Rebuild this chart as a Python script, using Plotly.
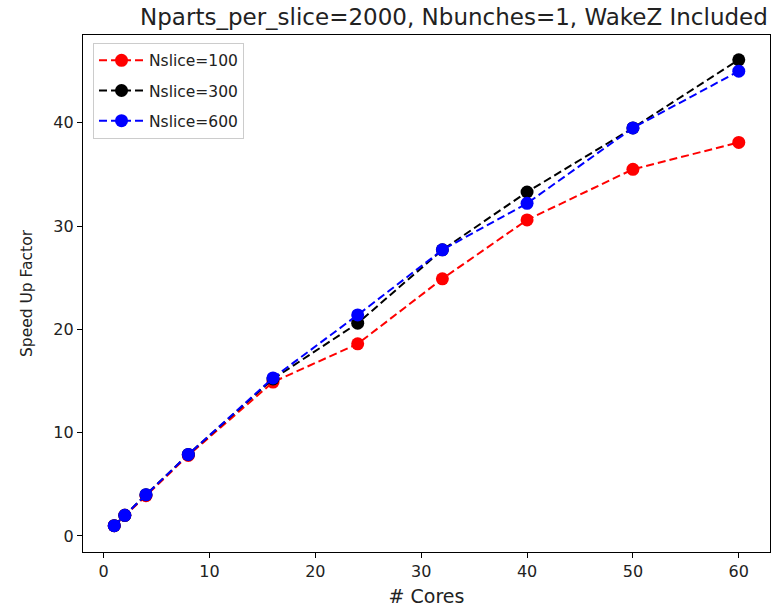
import plotly.graph_objects as go

cores = [1, 2, 4, 8, 16, 24, 32, 40, 50, 60]
nslice100 = [1.0, 2.0, 3.9, 7.8, 14.9, 18.6, 24.9, 30.6, 35.5, 38.1]
nslice300 = [1.0, 2.0, 4.0, 7.9, 15.2, 20.6, 27.7, 33.3, 39.5, 46.1]
nslice600 = [1.0, 2.0, 4.0, 7.9, 15.3, 21.4, 27.7, 32.2, 39.5, 45.0]
series = [("Nslice=100", nslice100, "red"),
          ("Nslice=300", nslice300, "black"),
          ("Nslice=600", nslice600, "blue")]

fig = go.Figure()
for name, ys, col in series:
    fig.add_trace(go.Scatter(x=cores, y=ys, name=name, mode="lines+markers",
                             legendgroup=name,
                             line=dict(color=col, dash="8px,4px", width=2),
                             marker=dict(color=col, size=13)))

fam = "DejaVu Sans"
fig.update_layout(
    width=772, height=607,
    margin=dict(l=83, r=2, t=35, b=55),
    plot_bgcolor="white", paper_bgcolor="white",
    font=dict(family=fam, size=16, color="#222"),
    title=dict(text="Nparts_per_slice=2000, Nbunches=1, WakeZ Included",
               x=0.588, xanchor="center", y=0.972, yanchor="middle",
               font=dict(family=fam, size=23, color="#222")),
    xaxis=dict(range=[-1.95, 62.95], tickvals=[0, 10, 20, 30, 40, 50, 60],
               showgrid=False, zeroline=False, showline=True, mirror=True,
               linecolor="black", linewidth=1.2, ticks="outside", ticklen=5,
               tickcolor="black", tickfont=dict(size=16),
               title=dict(text="# Cores", standoff=10, font=dict(size=19))),
    yaxis=dict(range=[-1.55, 48.5], tickvals=[0, 10, 20, 30, 40],
               showgrid=False, zeroline=False, showline=True, mirror=True,
               linecolor="black", linewidth=1.2, ticks="outside", ticklen=5,
               tickcolor="black", tickfont=dict(size=16),
               title=dict(text="Speed Up Factor", standoff=16, font=dict(size=15.5))),
    legend=dict(x=0.0146, y=0.985, xanchor="left", yanchor="top",
                bgcolor="rgba(255,255,255,0.8)", bordercolor="#ccc",
                borderwidth=1, font=dict(family=fam, size=15.5, color="#222"),
                tracegroupgap=7, itemwidth=45),
)
fig.write_html("out.html")
